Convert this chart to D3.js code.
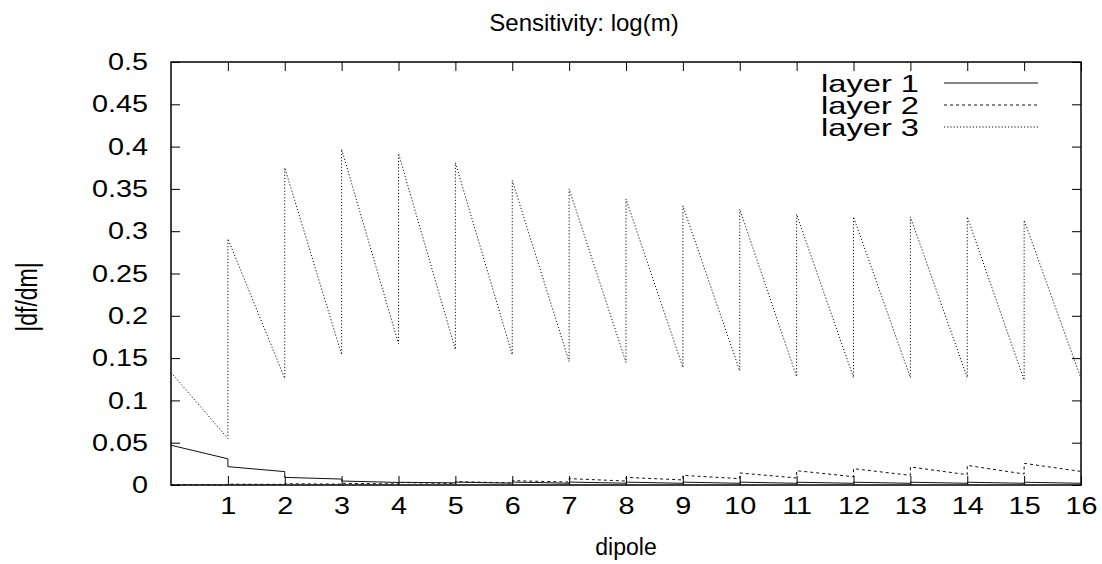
<!DOCTYPE html>
<html>
<head>
<meta charset="utf-8">
<script src="https://cdn.jsdelivr.net/npm/d3@7"></script>
<style>
  body { margin: 0; background: #fff; }
  svg text { font-family: "Liberation Sans", Arial, Helvetica, sans-serif; fill: #000; }
</style>
</head>
<body>
<div id="chart"></div>
<script>
// values: one start / end value per dipole interval
var xTicks = [1, 2, 3, 4, 5, 6, 7, 8, 9, 10, 11, 12, 13, 14, 15, 16];
var yTicks = [0, 0.05, 0.1, 0.15, 0.2, 0.25, 0.3, 0.35, 0.4, 0.45, 0.5];
var seriesNames = ["layer 1", "layer 2", "layer 3"];

var layer1Start = [0.047, 0.0217, 0.009, 0.0047, 0.0032, 0.0034, 0.0035, 0.0035, 0.0034, 0.0034, 0.0034, 0.0033, 0.0033, 0.0033, 0.0033, 0.0033];
var layer1End   = [0.031, 0.0158, 0.007, 0.0030, 0.0025, 0.0022, 0.0021, 0.0021, 0.0020, 0.0020, 0.0020, 0.0020, 0.0020, 0.0020, 0.0020, 0.0020];

var layer2Start = [0.0005, 0.0010, 0.0015, 0.0020, 0.0030, 0.0040, 0.0051, 0.0075, 0.0090, 0.0114, 0.0142, 0.0169, 0.0193, 0.0213, 0.0232, 0.0256];
var layer2End   = [0.0003, 0.0007, 0.0010, 0.0012, 0.0018, 0.0025, 0.0035, 0.0047, 0.0060, 0.0075, 0.0083, 0.0098, 0.0114, 0.0122, 0.0130, 0.0160];

var layer3Start = [0.133, 0.291, 0.375, 0.397, 0.392, 0.381, 0.360, 0.350, 0.338, 0.330, 0.326, 0.320, 0.317, 0.317, 0.317, 0.313];
var layer3End   = [0.055, 0.126, 0.154, 0.167, 0.160, 0.154, 0.146, 0.145, 0.139, 0.135, 0.128, 0.127, 0.127, 0.127, 0.124, 0.126];

// each interval k runs from (k, start) down to (k+1, end), then jumps
function toPoints(starts, ends) {
  var pts = [];
  for (var k = 0; k < starts.length; k++) {
    pts.push([k, starts[k]]);
    pts.push([k + 1, ends[k]]);
  }
  return pts;
}

var series = [
  {name: seriesNames[0], points: toPoints(layer1Start, layer1End), dash: null},
  {name: seriesNames[1], points: toPoints(layer2Start, layer2End), dash: "3,3"},
  {name: seriesNames[2], points: toPoints(layer3Start, layer3End), dash: "1.2,2"}
];

var W = 1102, H = 564;
var margin = {top: 62, right: 21, bottom: 79, left: 171};
var width = W - margin.left - margin.right;
var height = H - margin.top - margin.bottom;

var x = d3.scaleLinear().domain([0, 16]).range([0, width]);
var y = d3.scaleLinear().domain([0, 0.5]).range([height, 0]);

var svg = d3.select("#chart").append("svg")
    .attr("width", W)
    .attr("height", H);

var g = svg.append("g")
    .attr("transform", "translate(" + margin.left + "," + margin.top + ")");

var tickLen = 9;
var tickFont = "24px";
var stretch = 1.2;   // the original glyphs are drawn wider than they are tall
var fmtY = function(d) { return d === 0 ? "0" : String(+d.toFixed(2)); };

// left axis, inward ticks + labels
var yAxis = g.append("g").call(d3.axisLeft(y).tickValues(yTicks).tickFormat(fmtY).tickSizeInner(-tickLen).tickSizeOuter(0).tickPadding(23));
// right axis mirror ticks
g.append("g").attr("transform", "translate(" + width + ",0)")
    .call(d3.axisRight(y).tickValues(yTicks).tickFormat("").tickSizeInner(-tickLen).tickSizeOuter(0));
// bottom axis
var xAxis = g.append("g").attr("transform", "translate(0," + height + ")")
    .call(d3.axisBottom(x).tickValues(xTicks).tickFormat(d3.format("d")).tickSizeInner(-tickLen).tickSizeOuter(0).tickPadding(12));
// top axis mirror ticks
g.append("g")
    .call(d3.axisTop(x).tickValues(xTicks).tickFormat("").tickSizeInner(-tickLen).tickSizeOuter(0));

g.selectAll(".domain").remove();
g.selectAll(".tick line").attr("stroke", "#000").attr("stroke-width", 1);
g.selectAll(".tick text").attr("font-size", tickFont).attr("fill", "#000");

yAxis.selectAll(".tick text")
    .attr("x", -23 / stretch)
    .attr("transform", "scale(" + stretch + ",1)");
xAxis.selectAll(".tick text")
    .attr("transform", "scale(" + stretch + ",1)");

// frame
g.append("rect")
    .attr("x", 0).attr("y", 0)
    .attr("width", width).attr("height", height)
    .attr("fill", "none")
    .attr("stroke", "#000")
    .attr("stroke-width", 1.5);

var line = d3.line()
    .x(function(d) { return x(d[0]); })
    .y(function(d) { return y(d[1]); });

g.selectAll("path.series")
    .data(series)
    .enter().append("path")
    .attr("class", "series")
    .attr("d", function(d) { return line(d.points); })
    .attr("fill", "none")
    .attr("stroke", "#111")
    .attr("stroke-width", 1)
    .attr("stroke-dasharray", function(d) { return d.dash; });

// legend
var legendStretch = 1.36;
var legendRows = g.append("g").selectAll("g")
    .data(series)
    .enter().append("g")
    .attr("transform", function(d, i) { return "translate(0," + (21 + i * 22) + ")"; });

legendRows.append("text")
    .attr("x", 748 / legendStretch)
    .attr("dy", "0.36em")
    .attr("text-anchor", "end")
    .attr("font-size", "24px")
    .attr("transform", "scale(" + legendStretch + ",1)")
    .text(function(d) { return d.name; });

legendRows.append("line")
    .attr("x1", 773).attr("x2", 867)
    .attr("y1", 0).attr("y2", 0)
    .attr("stroke", "#111")
    .attr("stroke-width", 1)
    .attr("stroke-dasharray", function(d) { return d.dash; });

// title and axis labels
svg.append("text")
    .attr("x", 584).attr("y", 31)
    .attr("text-anchor", "middle")
    .attr("font-size", "24px")
    .text("Sensitivity: log(m)");

svg.append("text")
    .attr("x", margin.left + width / 2).attr("y", 555)
    .attr("text-anchor", "middle")
    .attr("font-size", "23px")
    .text("dipole");

svg.append("text")
    .attr("transform", "translate(37,297) rotate(-90) scale(1,1.3)")
    .attr("text-anchor", "middle")
    .attr("font-size", "23px")
    .text("|df/dm|");
</script>
</body>
</html>
